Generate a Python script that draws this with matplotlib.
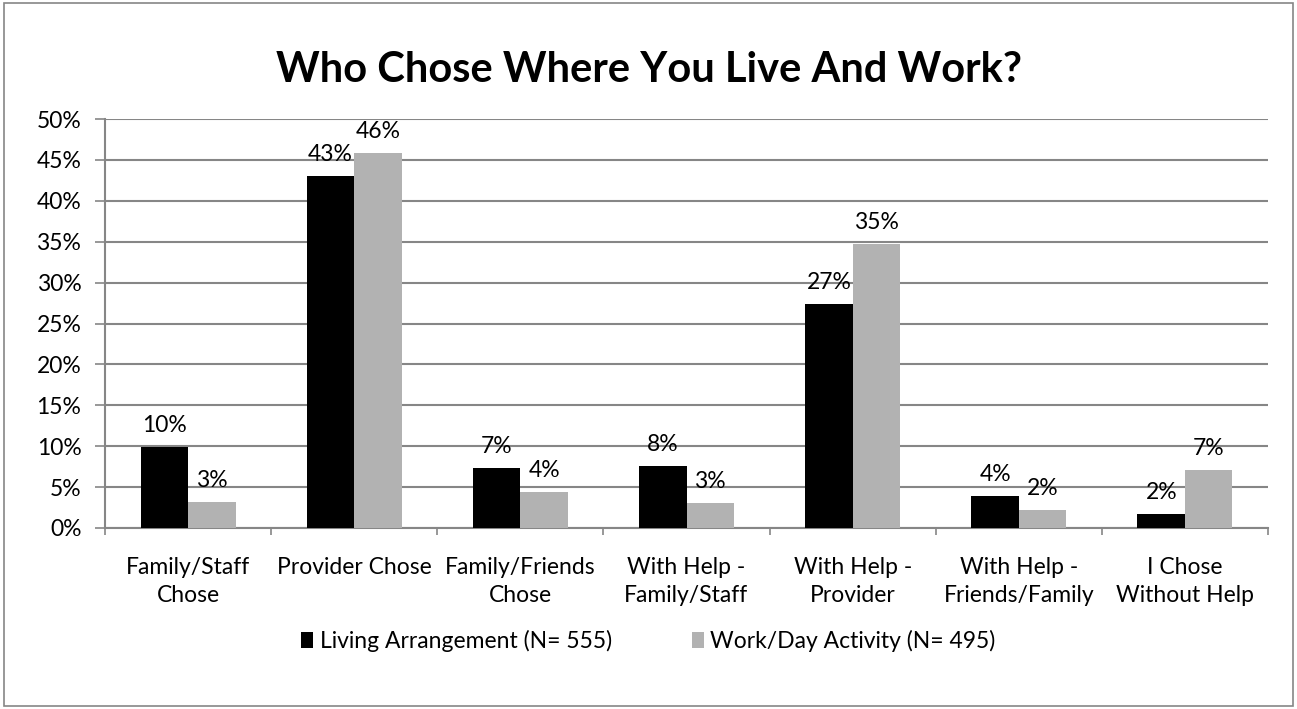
import matplotlib
matplotlib.use('Agg')
import matplotlib.pyplot as plt
import numpy as np
from matplotlib.patches import Rectangle
from matplotlib.ticker import PercentFormatter

plt.rcParams['font.family'] = ['Lato', 'DejaVu Sans']

categories = ['Family/Staff\nChose', 'Provider Chose', 'Family/Friends\nChose',
              'With Help -\nFamily/Staff', 'With Help -\nProvider',
              'With Help -\nFriends/Family', 'I Chose\nWithout Help']
living = [9.9, 43.0, 7.3, 7.6, 27.4, 3.9, 1.7]
work = [3.2, 45.8, 4.4, 3.0, 34.7, 2.2, 7.1]
series_names = ['Living Arrangement (N= 555)', 'Work/Day Activity (N= 495)']

grid_gray = '#868686'
fs = 16.5

fig = plt.figure(figsize=(12.97, 7.09), dpi=100)
ax = fig.add_axes([105 / 1297, 1 - 528 / 709, 1163 / 1297, 409 / 709])

# outer chart frame
fig.patches.append(Rectangle((0.003, 0.004), 0.994, 0.992, transform=fig.transFigure,
                             fill=False, edgecolor=grid_gray, linewidth=1.2))

x = np.arange(len(categories))
w = 1 / 3.5
b1 = ax.bar(x - w / 2, living, w, color='black', label=series_names[0], zorder=3)
b2 = ax.bar(x + w / 2, work, w, color='#b2b2b2', label=series_names[1], zorder=3)

for bars, vals in ((b1, living), (b2, work)):
    for bar, v in zip(bars, vals):
        ax.annotate(f'{v:.0f}%', (bar.get_x() + bar.get_width() / 2, v),
                    xytext=(0, 8), textcoords='offset points',
                    ha='center', va='bottom', fontsize=fs, zorder=4)

ax.set_xlim(-0.5, len(categories) - 0.5)
ax.set_ylim(0, 50)
ax.set_yticks(np.arange(0, 51, 5))
ax.yaxis.set_major_formatter(PercentFormatter(decimals=0))
ax.yaxis.grid(True, color=grid_gray, linewidth=1.5, zorder=0)

ax.set_xticks(x)
ax.set_xticklabels(categories, fontsize=fs, linespacing=1.4)
ax.set_xticks(np.arange(-0.5, len(categories)), minor=True)
ax.tick_params(axis='x', which='major', length=0, pad=21)
ax.tick_params(axis='x', which='minor', length=5, width=1.2, color=grid_gray)
ax.tick_params(axis='y', length=7, width=1.2, color=grid_gray, labelsize=fs, pad=10)

for side in ('top', 'right'):
    ax.spines[side].set_visible(False)
for side in ('left', 'bottom'):
    ax.spines[side].set_color(grid_gray)
    ax.spines[side].set_linewidth(1.5)

fig.text(0.5, 1 - 70 / 709, 'Who Chose Where You Live And Work?',
         ha='center', va='center', fontsize=30, fontweight='bold')

fig.legend(loc='center', bbox_to_anchor=(0.5, 1 - 641 / 709), ncol=2, frameon=False,
           fontsize=fs, handlelength=0.5, handleheight=0.7, handletextpad=0.3,
           columnspacing=3.5)

fig.savefig('out.png', dpi=100)
